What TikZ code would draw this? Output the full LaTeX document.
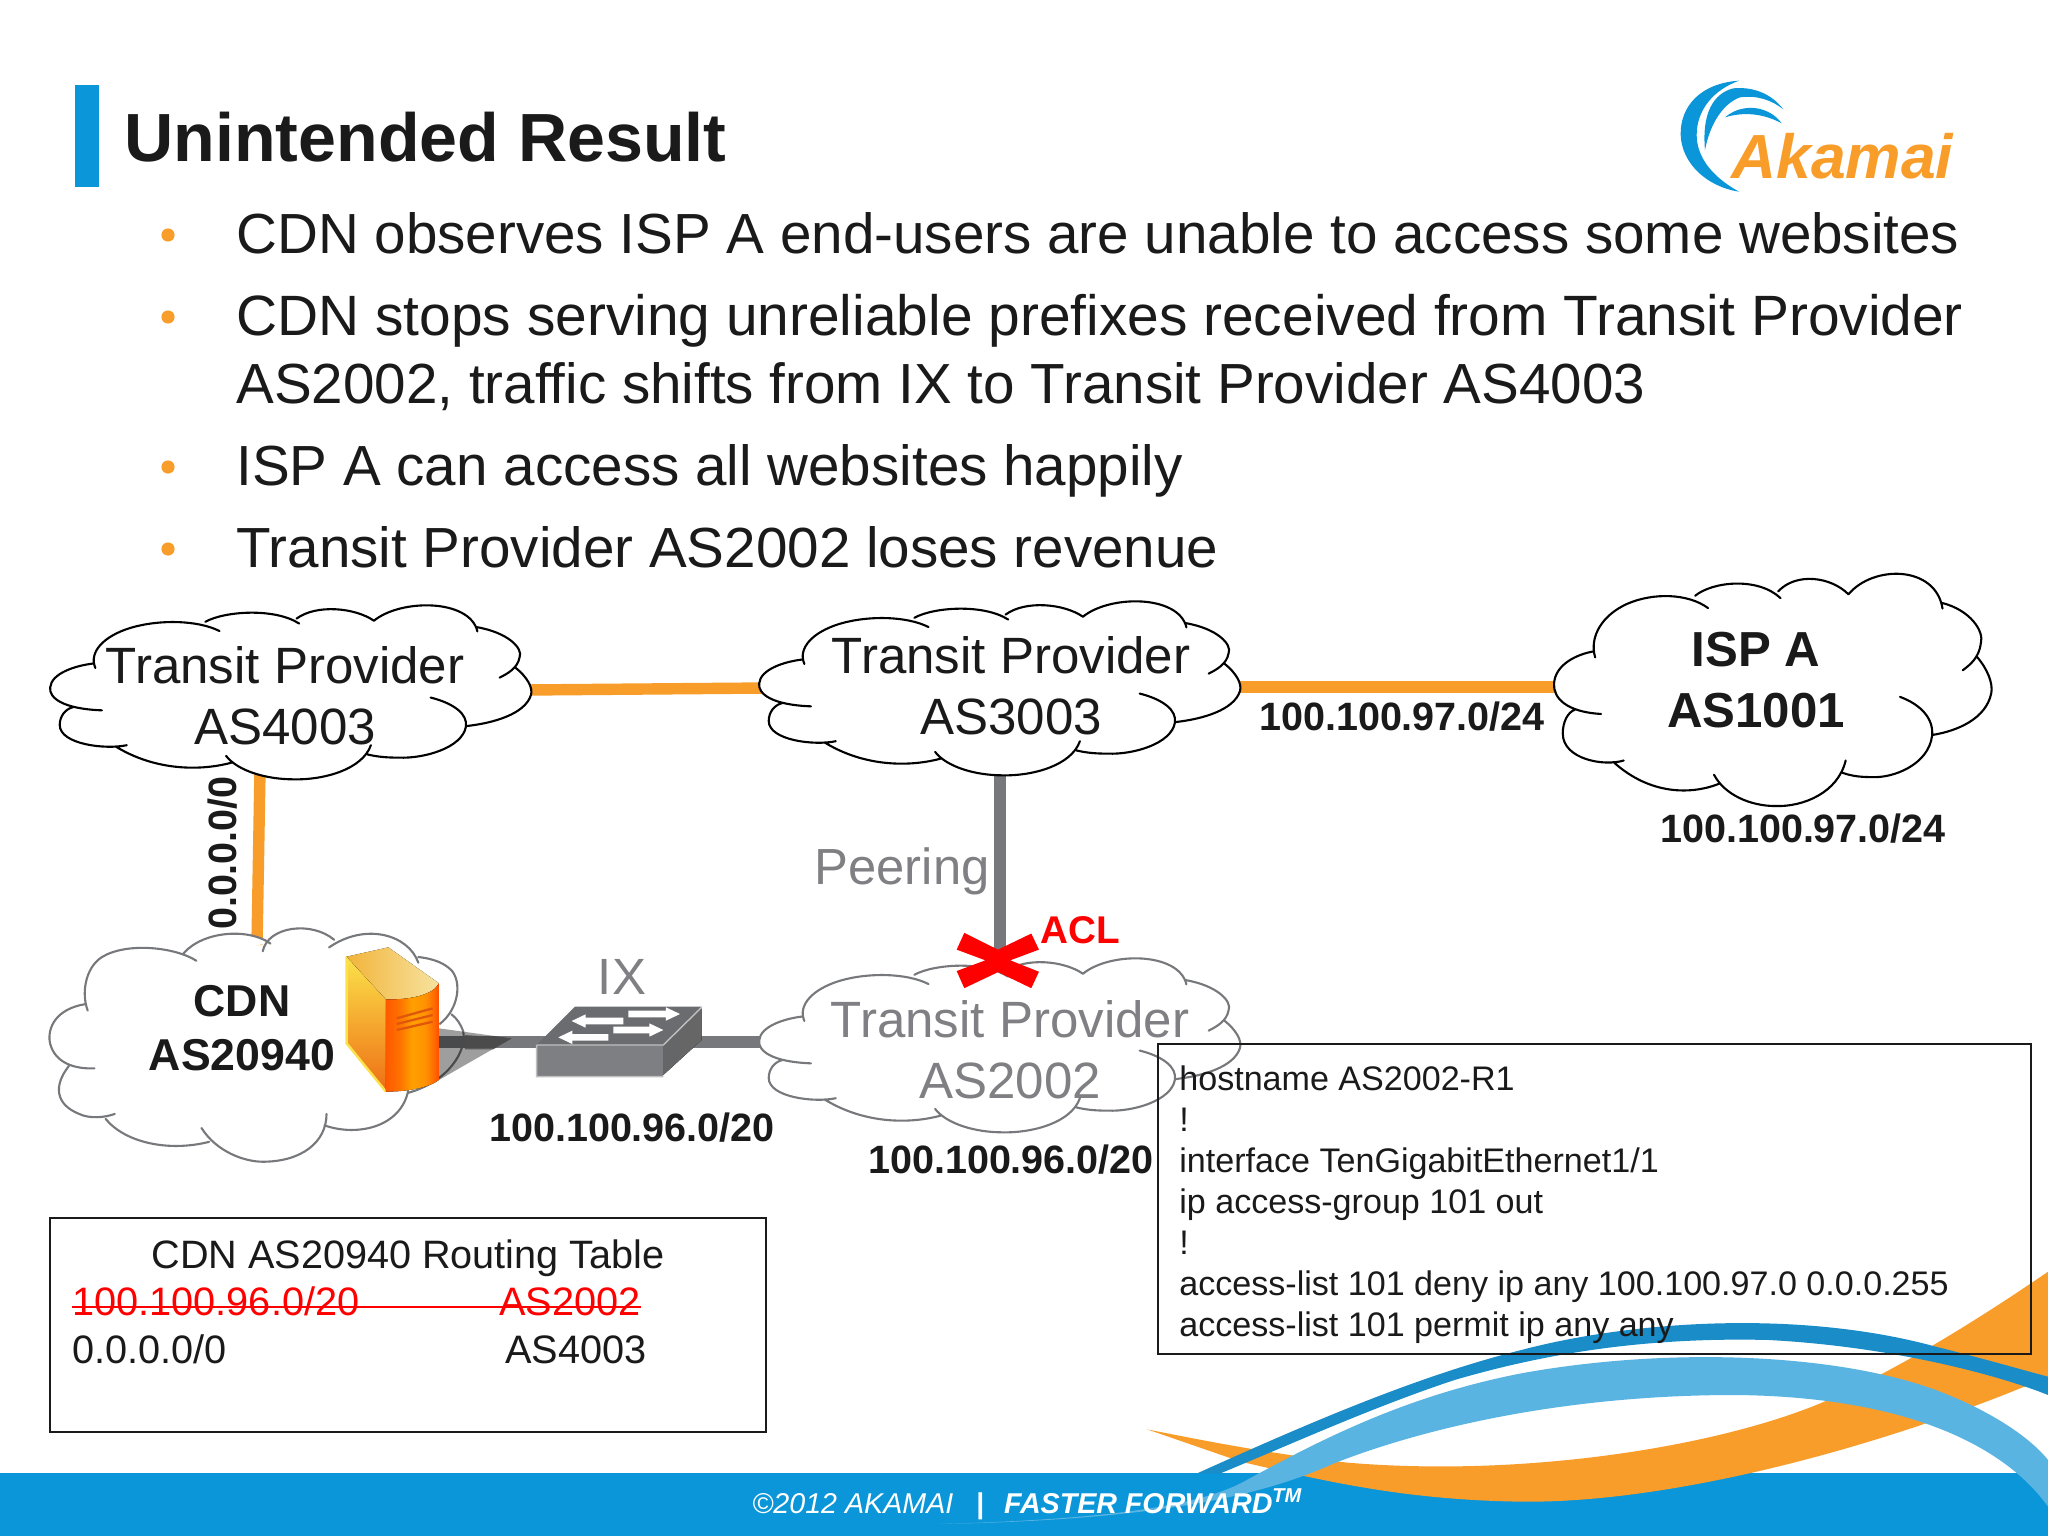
\documentclass[tikz,border=0pt]{standalone}
\usepackage{fontspec}
\setmainfont{Liberation Sans}
\definecolor{ak}{HTML}{0A96D8}
\definecolor{akl}{HTML}{5AB4E2}
\definecolor{akd}{HTML}{1A8CC8}
\definecolor{og}{HTML}{F99D2A}
\definecolor{gl}{HTML}{77787B}
\definecolor{tx}{HTML}{1A1A1A}
\definecolor{gt}{HTML}{808084}
\definecolor{srvY}{HTML}{FBE24A}
\definecolor{srvO}{HTML}{EE6E14}
\definecolor{srvT}{HTML}{F2B43A}
\definecolor{srvU}{HTML}{F7E2A0}
\definecolor{srvS}{HTML}{E0560C}
\pgfdeclarehorizontalshading{srvfront}{100bp}{
 color(0bp)=(orange!70!red); color(25bp)=(orange!70!red);
 color(38bp)=(orange!90!red); color(50bp)=(orange!75!yellow);
 color(62bp)=(orange!85!yellow); color(70bp)=(orange!85!red);
 color(75bp)=(orange!60!red); color(100bp)=(orange!60!red)}
\tikzset{
 lbl/.style={inner sep=0pt,text=tx},
 body/.style={lbl,anchor=base west,font=\fontsize{32.2}{38}\selectfont},
 cloudtxt/.style={lbl,align=center,font=\fontsize{29.05}{34.6}\selectfont},
 boldtxt/.style={lbl,align=center,font=\bfseries\fontsize{25.4}{30.5}\selectfont},
 pfx/.style={lbl,anchor=center,font=\bfseries\fontsize{22.5}{26}\selectfont},
 rt/.style={lbl,anchor=base west,font=\fontsize{22.6}{26}\selectfont},
 bull/.style={circle,fill=og,inner sep=0pt,minimum size=7.5pt},
 olink/.style={draw=og,line width=6.5pt},
 glink/.style={draw=gl,line width=6.5pt},
 box/.style={draw=tx,line width=1.1pt},
}
% cloud outline
\newcommand\lobes{
 (160,354) .. controls (60,350) and (22,320) .. (25,290) .. controls (28,250) and (90,228) .. (140,222)
 (143,235) .. controls (125,190) and (165,145) .. (235,122) .. controls (310,98) and (410,100) .. (467,131)
 (430,105) .. controls (480,75) and (610,65) .. (675,110)
 (668,96) .. controls (720,55) and (820,65) .. (870,102)
 (870,102) .. controls (940,40) and (1120,40) .. (1140,132)
 (1138,120) .. controls (1220,135) and (1260,180) .. (1250,205) .. controls (1245,235) and (1220,250) .. (1198,262)
 (1238,233) .. controls (1270,260) and (1285,290) .. (1280,310) .. controls (1265,365) and (1180,390) .. (1113,398)
 (1018,318) .. controls (1080,335) and (1115,365) .. (1110,400) .. controls (1100,460) and (1000,490) .. (935,487) .. controls (905,487) and (880,485) .. (853,478)
 (862,452) .. controls (840,520) and (740,550) .. (660,548) .. controls (590,548) and (515,525) .. (484,482)
 (502,500) .. controls (420,525) and (300,525) .. (195,455)
 (225,452) .. controls (170,465) and (50,450) .. (50,395) .. controls (50,370) and (65,350) .. (85,345)
}
\newcommand\mycloud[5]{%
 \begin{scope}[shift={(#1,#2)},xscale=#3,yscale=#4,shift={(-22,-55)}]
 \fill[white] (143,230)--(465,130)--(870,100)--(1140,130)--(1250,205)--(1280,310)--(1110,400)--(860,470)--(660,545)--(300,505)--(100,400)--(30,295)--cycle;
 \fill[white] \lobes;
 \draw[#5,line width=1.2pt,line cap=round] \lobes;
 \end{scope}}
\newcommand\larrow[3]{\fill[white] (#1,#3-10)--(#2+42,#3-10)--(#2+42,#3-20)--(#2,#3)--(#2+42,#3+20)--(#2+42,#3+10)--(#1,#3+10)--cycle;}
\newcommand\rarrow[3]{\fill[white] (#1,#3-10)--(#2-42,#3-10)--(#2-42,#3-20)--(#2,#3)--(#2-42,#3+20)--(#2-42,#3+10)--(#1,#3+10)--cycle;}
\begin{document}
\begin{tikzpicture}[x=0.02cm,y=-0.02cm]
\useasboundingbox (0,0) rectangle (2048,1536);
\fill[white] (0,0) rectangle (2048,1536);
% footer band and swooshes
\fill[ak] (0,1473) rectangle (2048,1536);
\begin{scope}[shift={(1000,1150)},xscale=0.6684,yscale=0.3333]
 \fill[og] (220,838) .. controls (300,870) and (400,910) .. (520,938) .. controls (800,985) and (1100,880) .. (1250,740) .. controls (1350,650) and (1470,500) .. (1568,365) -- (1568,680) -- (1530,712) .. controls (1300,900) and (1000,1060) .. (780,1055) .. controls (600,1050) and (480,990) .. (360,935) -- cycle;
 \fill[akd] (295,970) .. controls (450,830) and (620,680) .. (780,600) .. controls (950,510) and (1200,480) .. (1400,590) .. controls (1470,625) and (1530,660) .. (1568,680) -- (1568,735) .. controls (1500,680) and (1340,590) .. (1150,570) .. controls (950,560) and (800,620) .. (680,690) .. controls (560,770) and (450,870) .. (330,970) -- cycle;
 \fill[akl] (-90,1122) .. controls (120,1110) and (280,1080) .. (360,1000) .. controls (470,880) and (600,740) .. (780,670) .. controls (1000,590) and (1250,610) .. (1400,720) .. controls (1480,780) and (1540,860) .. (1568,930) -- (1568,1070) .. controls (1500,880) and (1350,740) .. (1100,735) .. controls (850,735) and (640,830) .. (500,940) .. controls (400,1030) and (250,1110) .. (-90,1122) -- cycle;
\end{scope}
\node[lbl,text=white,anchor=base west,font=\fontsize{16.3}{18}\selectfont] (foot) at (752,1513) {\itshape ©2012 AKAMAI\ \ \hspace{4pt}\textbf{\upshape |}\ \ \hspace{2.2pt}\textbf{FASTER FORWARD\textsuperscript{TM}}};
% title
\fill[ak] (75,85) rectangle (99,187);
\node[lbl,anchor=base west,font=\bfseries\fontsize{38.8}{44}\selectfont] (title) at (124,161) {Unintended Result};
% logo
\begin{scope}[shift={(1640,60)},scale=0.3333]
 \fill[ak] (297,62) .. controls (180,70) and (120,140) .. (122,225) .. controls (125,310) and (200,380) .. (297,395) .. controls (215,350) and (170,290) .. (170,225) .. controls (170,150) and (220,90) .. (297,62) -- cycle;
 \fill[ak] (430,148) .. controls (390,95) and (330,80) .. (280,85) .. controls (220,100) and (185,160) .. (195,270) .. controls (210,190) and (250,130) .. (300,112) .. controls (350,105) and (395,120) .. (430,148) -- cycle;
 \fill[ak] (425,190) .. controls (390,140) and (310,125) .. (255,172) .. controls (310,155) and (370,160) .. (425,190) -- cycle;
\end{scope}
\node[inner sep=0pt,anchor=base west,text=og,font=\bfseries\itshape\fontsize{35.5}{40}\selectfont] (logo) at (1731,178) {Akamai};
% bullets
\foreach \n/\y in {a/235,b/317,c/467,d/549}{\node[bull] (b\n) at (168,\y) {};}
\node[body] (l1) at (236,253) {CDN observes ISP A end-users are unable to access some websites};
\node[body,font=\fontsize{32.37}{38}\selectfont] (l2) at (236,335) {CDN stops serving unreliable prefixes received from Transit Provider};
\node[body] (l3) at (236,403) {AS2002, traffic shifts from IX to Transit Provider AS4003};
\node[body] (l4) at (236,485) {ISP A can access all websites happily};
\node[body] (l5) at (236,567) {Transit Provider AS2002 loses revenue};
% link ends
\coordinate (e4003) at (525,690);
\coordinate (w3003) at (765,688);
\coordinate (e3003) at (1235,687);
\coordinate (wispa) at (1560,687);
\coordinate (s4003) at (260,770);
\coordinate (ncdn) at (257,945);
\coordinate (s3003) at (1000,770);
\coordinate (n2002) at (1000,960);
\coordinate (srv) at (430,1042);
\coordinate (sw) at (620,1042);
\coordinate (w2002) at (765,1042);
\draw[olink] (e4003) -- (w3003);
\draw[olink] (e3003) -- (wispa);
\draw[olink] (s4003) -- (ncdn);
\draw[glink] (s3003) -- (n2002);
\draw[glink] (w2002) -- (sw);
% clouds
\mycloud{49}{604}{0.3832}{0.3556}{black}
\mycloud{758}{600}{0.3832}{0.3556}{black}
\mycloud{758}{957}{0.3832}{0.3556}{gl}
\mycloud{1553}{572}{0.3484}{0.4747}{black}
% CDN cloud
\begin{scope}[shift={(0,580)},xscale=0.5102,yscale=0.3827]
 \newcommand\cdnlobes{
 (385,995) .. controls (345,960) and (250,945) .. (200,985) .. controls (165,1015) and (160,1085) .. (172,1125)
 (168,1108) .. controls (110,1120) and (92,1170) .. (98,1210) .. controls (108,1265) and (150,1278) .. (185,1276)
 (135,1270) .. controls (105,1320) and (108,1370) .. (155,1395) .. controls (175,1408) and (205,1405) .. (225,1395)
 (207,1408) .. controls (245,1470) and (330,1495) .. (410,1468)
 (395,1432) .. controls (425,1495) and (480,1520) .. (515,1520) .. controls (590,1520) and (640,1470) .. (640,1395)
 (636,1425) .. controls (700,1455) and (785,1430) .. (800,1335)
 (800,1340) .. controls (880,1310) and (915,1230) .. (908,1180) .. controls (903,1160) and (895,1145) .. (885,1135)
 (862,1160) .. controls (900,1120) and (905,1050) .. (885,1020) .. controls (870,1000) and (850,990) .. (820,985)
 (820,1000) .. controls (800,925) and (715,895) .. (645,960)
 (655,940) .. controls (610,890) and (525,905) .. (515,970)
 (530,950) .. controls (490,910) and (400,915) .. (360,975)
 }
 \fill[white] (360,975)--(172,1100)--(110,1270)--(210,1400)--(400,1450)--(640,1410)--(800,1340)--(880,1140)--(820,1000)--(650,950)--(515,960)--cycle;
 \fill[white] \cdnlobes;
 \draw[gl,line width=1.2pt,line cap=round] \cdnlobes;
\end{scope}
% server, shadow, link, switch (coordinates of the 3x crop)
\draw[glink] (srv) -- (sw);
\begin{scope}[shift={(330,940)},scale=0.3333]
 \fill[black,opacity=.38] (327,265)--(545,295)--(405,375)--(327,420)--cycle;
 \fill[black!70,opacity=.8] (405,285)--(545,295)--(490,328)--(405,328)--cycle;
 \fill[top color=srvY,bottom color=srvO] (50,50)--(168,178)--(168,455)--(50,310)--cycle;
 \draw[srvY,line width=1.4pt] (50,50)--(50,310)--(168,455);
 \fill[left color=srvT,right color=srvU] (50,50)--(175,22)--(327,130) .. controls (310,165) and (240,180) .. (168,178) -- cycle;
 \fill[shading=srvfront] (168,178) .. controls (240,180) and (310,165) .. (327,130) -- (327,420) .. controls (300,440) and (240,455) .. (168,455) -- cycle;
 \draw[srvS,line width=1.3pt] (200,235)--(308,205) (200,252)--(308,225) (200,270)--(308,245);
 % switch
 \fill[gl!90!black] (620,315)--(735,200)--(1115,200)--(1000,315)--cycle;
 \fill[gl!95!white] (620,315) rectangle (1000,410);
 \fill[left color=gl!85!black,right color=black!60] (1000,315)--(1115,205)--(1115,300)--(1000,405)--cycle;
 \draw[black!25,line width=.8pt] (620,315)--(1000,315)--(1115,202) (620,315)--(620,410)--(1000,410);
 \larrow{880}{725}{243}
 \rarrow{895}{1050}{222}
 \larrow{835}{685}{292}
 \rarrow{850}{1000}{270}
\end{scope}
% red cross
\begin{scope}[shift={(750,580)},xscale=0.3827,yscale=0.3571]
 \fill[red] (560,988)--(648,1035)--(735,990)--(755,1035)--(680,1065)--(755,1097)--(735,1143)--(648,1098)--(560,1143)--(540,1095)--(615,1065)--(540,1035)--cycle;
\end{scope}
% cloud labels
\node[cloudtxt] (t4003) at (285,696) {Transit Provider\\AS4003};
\node[cloudtxt] (t3003) at (1011,686) {Transit Provider\\AS3003};
\node[cloudtxt,text=gt] (t2002) at (1010,1050) {Transit Provider\\AS2002};
\node[boldtxt] (cdn) at (242,1028) {CDN\\AS20940};
\node[boldtxt,font=\bfseries\fontsize{28}{35}\selectfont] (ispa) at (1756,680) {ISP A\\AS1001};
% other labels
\node[pfx] (p1) at (1402,717) {100.100.97.0/24};
\node[pfx] (p2) at (1803,829) {100.100.97.0/24};
\node[pfx] (p3) at (632,1128) {100.100.96.0/20};
\node[pfx] (p4) at (1011,1160) {100.100.96.0/20};
\node[pfx,rotate=90] (p5) at (223,853) {0.0.0.0/0};
\node[lbl,text=gt,anchor=base,font=\fontsize{28.9}{32}\selectfont] (peer) at (902,884) {Peering};
\node[pfx,text=red,font=\bfseries\fontsize{22}{26}\selectfont] (acl) at (1080,930) {ACL};
\node[lbl,text=gt,font=\fontsize{29}{32}\selectfont] (ix) at (622,977) {IX};
% routing table
\draw[box] (50,1218) rectangle (766,1432);
\node[lbl,anchor=base,font=\fontsize{22.55}{26}\selectfont] (rt0) at (408,1268) {CDN AS20940 Routing Table};
\node[rt,text=red] (rt1) at (72,1315) {100.100.96.0/20};
\node[rt,text=red] (rt2) at (499,1315) {AS2002};
\node[rt] (rt3) at (72,1363) {0.0.0.0/0};
\node[rt] (rt4) at (505,1363) {AS4003};
\draw[red,line width=.9pt] (rt1.west |- 0,1307) -- (rt2.east |- 0,1307);
% config box
\draw[box] (1158,1044) rectangle (2031,1354);
\node[lbl,anchor=north west,align=left,font=\fontsize{19.4}{23.35}\selectfont] (cfg) at (1179,1065) {hostname AS2002-R1\\!\\interface TenGigabitEthernet1/1\\ip access-group 101 out\\!\\access-list 101 deny ip any 100.100.97.0 0.0.0.255\\access-list 101 permit ip any any};
\end{tikzpicture}
\end{document}
